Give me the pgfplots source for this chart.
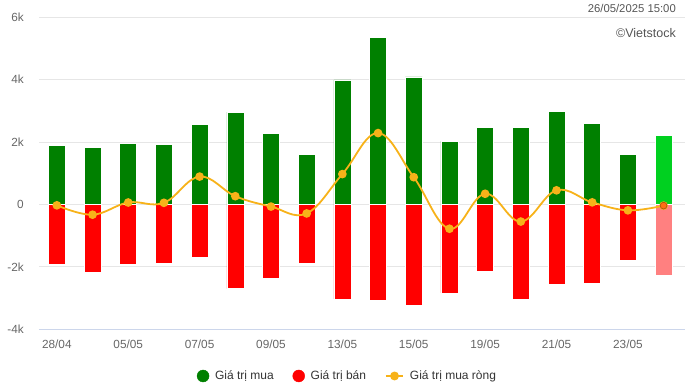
\documentclass[border=0pt]{standalone}
\usepackage{pgfplots}
\pgfplotsset{compat=1.18}
\usepackage{fontspec}
\setmainfont{Liberation Sans}
\definecolor{buyg}{RGB}{0,128,0}
\definecolor{buylast}{RGB}{0,208,32}
\definecolor{sellr}{RGB}{255,0,0}
\definecolor{selllast}{RGB}{255,128,128}
\definecolor{netc}{RGB}{247,178,25}
\definecolor{netlast}{RGB}{255,110,20}
\definecolor{netlastb}{RGB}{170,80,20}
\definecolor{gridc}{RGB}{230,230,230}
\definecolor{axisc}{RGB}{204,214,235}
\definecolor{tickc}{RGB}{102,102,102}
\definecolor{toptext}{RGB}{85,85,85}
\definecolor{legtext}{RGB}{51,51,51}
\begin{document}
\begin{tikzpicture}
\useasboundingbox (-39pt,-56.7pt) rectangle (646pt,329.3pt);
\begin{axis}[
  at={(0,0)}, anchor=south west,
  scale only axis, width=646pt, height=312.3pt,
  xmin=-0.5, xmax=17.6, ymin=-4000, ymax=6000,
  ytick={-4000,-2000,0,2000,4000,6000},
  yticklabels={-4k,-2k,0,2k,4k,6k},
  xtick={0,2,...,16},
  xticklabels={28/04,05/05,07/05,09/05,13/05,15/05,19/05,21/05,23/05},
  ymajorgrids, grid style={gridc, line width=0.8pt},
  separate axis lines,
  axis x line*=bottom, axis y line*=left,
  x axis line style={axisc, line width=0.8pt, -},
  y axis line style={draw=none},
  major tick length=0pt,
  tick label style={font=\fontsize{11.8}{13}\selectfont, text=tickc},
  yticklabel style={anchor=east, inner sep=0pt, xshift=-15pt},
  xticklabel style={anchor=center, inner sep=0pt, yshift=-15pt},
  legend style={at={(0.4776,-0.1495)}, anchor=center, draw=none, fill=none,
    legend columns=3, font=\fontsize{12}{14}\selectfont, text=legtext,
    /tikz/every odd column/.append style={column sep=4pt},
    /tikz/every even column/.append style={column sep=17pt}},
]
\addlegendimage{only marks, mark=*, mark size=6pt, color=buyg}
\addlegendentry{Giá trị mua}
\addlegendimage{only marks, mark=*, mark size=6pt, color=sellr}
\addlegendentry{Giá trị bán}
\addlegendimage{color=netc, line width=1.8pt, mark=*, mark size=3.5pt, mark options={fill=netc, draw=netc}}
\addlegendentry{Giá trị mua ròng}

\addplot[forget plot, ybar, bar width=17pt, bar shift=0pt, fill=buyg, draw=white, line width=0.5pt] coordinates {
(0,1897) (1,1833) (2,1961) (3,1929) (4,2572) (5,2958) (6,2283) (7,1608) (8,3987)
(9,5338) (10,4084) (11,2026) (12,2476) (13,2476) (14,2990) (15,2605) (16,1608)};
\addplot[forget plot, ybar, bar width=17pt, bar shift=0pt, fill=buylast, draw=white, line width=0.5pt] coordinates {(17,2219)};
\addplot[forget plot, ybar, bar width=17pt, bar shift=0pt, fill=sellr, draw=white, line width=0.5pt] coordinates {
(0,-1929) (1,-2186) (2,-1929) (3,-1897) (4,-1704) (5,-2701) (6,-2379) (7,-1897) (8,-3022)
(9,-3055) (10,-3215) (11,-2830) (12,-2154) (13,-3022) (14,-2572) (15,-2540) (16,-1801)};
\addplot[forget plot, ybar, bar width=17pt, bar shift=0pt, fill=selllast, draw=white, line width=0.5pt] coordinates {(17,-2283)};

\addplot[forget plot, netc, line width=1.8pt, smooth, tension=0.65, mark=*, mark size=3.4pt, mark options={fill=netc, draw=netc}] coordinates {
(0,-30) (1,-330) (2,60) (3,50) (4,890) (5,262) (6,-70) (7,-290) (8,970)
(9,2283) (10,870) (11,-780) (12,340) (13,-550) (14,450) (15,65) (16,-190) (17,-40)};
\addplot[forget plot, only marks, mark=*, mark size=3.4pt, mark options={fill=netlast, draw=netlastb, line width=0.7pt}] coordinates {(17,-40)};
\end{axis}
\node[anchor=east, inner sep=0pt, font=\fontsize{11.3}{13}\selectfont, text=toptext] at (637pt,321.3pt) {26/05/2025 15:00};
\node[anchor=east, inner sep=0pt, font=\fontsize{12.5}{14}\selectfont, text=toptext] at (637pt,296.3pt) {©Vietstock};
\end{tikzpicture}
\end{document}
